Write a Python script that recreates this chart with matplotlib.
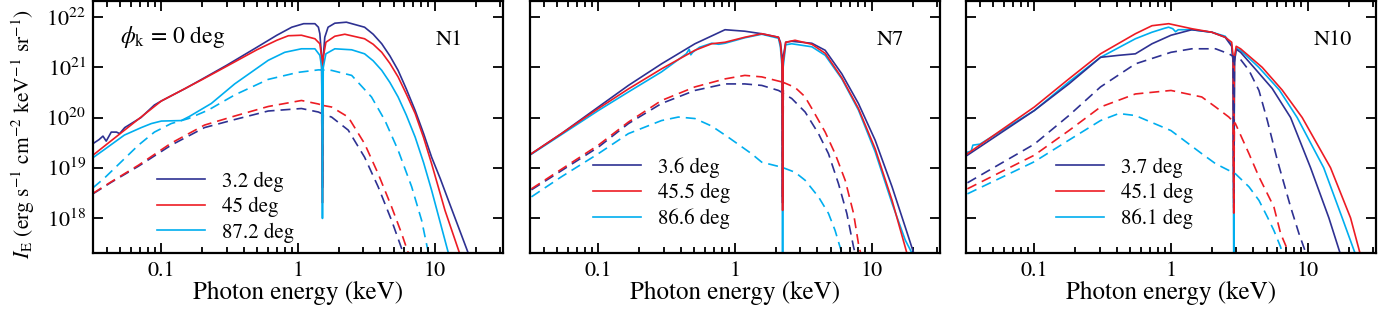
import numpy as np
import matplotlib
matplotlib.use('Agg')
import matplotlib.pyplot as plt
from matplotlib.ticker import NullLocator, LogLocator

plt.rcParams['font.family'] = ['STIXGeneral', 'DejaVu Serif']
plt.rcParams['mathtext.fontset'] = 'stix'

NAVY, RED, CYAN = '#2e3192', '#ed1c24', '#00aeef'

# ---- N1 (energies in keV, intensities as log10 I_E) ----
e1_b = [0.0316, 0.035, 0.0374, 0.0395, 0.043, 0.047, 0.0495, 0.054, 0.071, 0.089, 0.1, 0.15, 0.2, 0.3, 0.5,
        0.7, 0.9, 1.1, 1.33, 1.41, 1.445, 1.49, 1.51, 1.53, 1.57, 1.66, 1.86, 2.26, 3.07, 3.55, 4.1, 4.7, 5.4,
        6.2, 7.2, 8.3, 9.5, 11, 12.6, 17.6, 20]
i1_b = [19.48, 19.56, 19.63, 19.53, 19.71, 19.71, 19.68, 19.80, 20.00, 20.25, 20.33, 20.58, 20.77, 21.04,
        21.40, 21.64, 21.80, 21.87, 21.87, 21.80, 21.67, 21.2, 18.6, 21.2, 21.60, 21.80, 21.88, 21.90, 21.80,
        21.66, 21.47, 21.23, 20.94, 20.57, 20.14, 19.68, 19.21, 18.78, 18.35, 17.30, 16.9]
e1_r = [0.0316, 0.1, 0.2, 0.3, 0.5, 0.7, 0.85, 1.06, 1.33, 1.445, 1.49, 1.51, 1.53, 1.6, 1.86, 2.2, 3.07,
        3.55, 4.1, 4.7, 5.4, 6.2, 7.2, 8.3, 9.5, 11.9, 15.2, 17]
i1_r = [19.25, 20.33, 20.76, 21.02, 21.35, 21.54, 21.63, 21.64, 21.57, 21.47, 21.2, 18.3, 21.2, 21.50,
        21.62, 21.66, 21.57, 21.46, 21.30, 21.08, 20.81, 20.47, 20.08, 19.60, 19.08, 18.15, 17.30, 16.9]
e1_c = [0.0316, 0.0382, 0.0536, 0.0713, 0.0845, 0.1, 0.14, 0.16, 0.232, 0.344, 0.605, 0.8, 1.06, 1.33,
        1.445, 1.49, 1.51, 1.53, 1.6, 1.86, 2.47, 3.07, 3.55, 4.1, 4.7, 5.4, 6.2, 7.2, 8.3, 9.5, 12.6, 14]
i1_c = [19.20, 19.36, 19.65, 19.80, 19.88, 19.93, 19.94, 20.02, 20.28, 20.67, 21.14, 21.30, 21.37, 21.37,
        21.24, 21.0, 17.99, 21.0, 21.27, 21.37, 21.35, 21.27, 21.13, 20.94, 20.70, 20.41, 20.05, 19.61,
        19.10, 18.55, 17.30, 16.9]
e1_bd = [0.0316, 0.043, 0.068, 0.118, 0.207, 0.344, 0.605, 1.06, 1.41, 1.49, 1.51, 1.53, 1.76, 2.33, 3.07,
         3.86, 4.84, 5.89, 6.5]
i1_bd = [18.48, 18.71, 19.03, 19.45, 19.80, 19.96, 20.13, 20.18, 20.11, 20.08, 18.8, 20.06, 20.01, 19.75,
         19.21, 18.62, 17.95, 17.30, 16.9]
e1_rd = [0.0316, 0.043, 0.068, 0.118, 0.207, 0.344, 0.605, 1.06, 1.41, 1.49, 1.51, 1.53, 1.76, 2.33, 3.07,
         3.86, 4.84, 5.73, 6.41, 7.0]
i1_rd = [18.49, 18.72, 19.05, 19.49, 19.85, 20.03, 20.22, 20.34, 20.27, 20.25, 18.6, 20.24, 20.21, 20.01,
         19.48, 18.88, 18.22, 17.69, 17.30, 16.9]
e1_cd = [0.0316, 0.0382, 0.068, 0.089, 0.118, 0.158, 0.221, 0.344, 0.605, 1.0, 1.41, 1.76, 2.47, 3.45,
         4.33, 5.4, 6.79, 8.03, 9.0, 9.8]
i1_cd = [18.60, 18.79, 19.45, 19.71, 19.88, 19.98, 20.15, 20.45, 20.76, 20.90, 20.95, 20.94, 20.84, 20.41,
         19.94, 19.35, 18.62, 17.95, 17.30, 16.9]

# ---- N7 ----
e2_b = [0.0324, 0.0537, 0.1, 0.166, 0.29, 0.509, 0.845, 1.18, 1.57, 2.08, 2.15, 2.21, 2.23, 2.25, 2.35,
        2.6, 3.65, 4.57, 6.05, 8.0, 10.6, 14.1, 17.6, 20.3, 22]
i2_b = [19.28, 19.68, 20.21, 20.64, 21.07, 21.47, 21.75, 21.72, 21.67, 21.60, 21.50, 21.2, 18.3, 21.2,
        21.50, 21.52, 21.48, 21.34, 20.87, 20.28, 19.55, 18.62, 17.82, 17.30, 16.9]
e2_r = [0.0324, 0.0537, 0.1, 0.166, 0.29, 0.509, 0.675, 0.845, 1.18, 1.57, 2.08, 2.15, 2.21, 2.23, 2.25,
        2.35, 2.75, 3.65, 4.57, 6.05, 8.0, 10.6, 14.1, 18.1, 20]
i2_r = [19.28, 19.68, 20.18, 20.57, 20.97, 21.34, 21.47, 21.50, 21.60, 21.67, 21.60, 21.47, 21.1, 18.15,
        21.1, 21.50, 21.54, 21.46, 21.28, 20.79, 20.18, 19.38, 18.35, 17.30, 16.9]
e2_c = [0.0324, 0.0537, 0.1, 0.166, 0.29, 0.44, 0.462, 0.475, 0.49, 0.55, 0.675, 0.76, 0.845, 1.18, 1.57,
        2.08, 2.15, 2.21, 2.23, 2.25, 2.35, 2.6, 3.65, 4.57, 6.05, 8.0, 10.6, 14.1, 17.6, 19.7, 22]
i2_c = [19.27, 19.66, 20.14, 20.51, 20.91, 21.27, 21.36, 21.25, 21.30, 21.40, 21.48, 21.46, 21.48, 21.59,
        21.66, 21.58, 21.40, 21.0, 16.5, 21.0, 21.45, 21.47, 21.41, 21.24, 20.77, 20.15, 19.32, 18.29,
        17.56, 17.30, 16.9]
e2_bd = [0.0324, 0.1, 0.166, 0.29, 0.509, 0.845, 1.18, 1.57, 2.08, 2.21, 2.23, 2.25, 2.6, 3.26, 4.08,
         4.83, 5.72, 6.58, 7.37, 7.57, 8]
i2_bd = [18.56, 19.41, 19.88, 20.28, 20.54, 20.67, 20.67, 20.64, 20.54, 20.50, 18.42, 20.48, 20.38, 20.11,
         19.68, 19.28, 18.68, 18.09, 17.42, 17.30, 16.9]
e2_rd = [0.0324, 0.1, 0.166, 0.29, 0.509, 0.845, 1.18, 1.57, 2.2, 2.23, 2.26, 2.75, 3.24, 3.65, 4.57, 5.4,
         6.4, 7.37, 8.0, 8.3, 8.8]
i2_rd = [18.58, 19.45, 19.91, 20.34, 20.61, 20.77, 20.84, 20.81, 20.71, 18.4, 20.70, 20.60, 20.42, 20.18,
         19.71, 19.28, 18.75, 18.09, 17.49, 17.30, 16.9]
e2_cd = [0.0324, 0.0537, 0.1, 0.166, 0.29, 0.385, 0.509, 0.675, 0.89, 1.32, 1.57, 2.2, 2.75, 3.26, 4.08,
         4.83, 5.4, 6.05, 6.5]
i2_cd = [18.42, 18.82, 19.28, 19.68, 19.94, 20.01, 19.98, 19.83, 19.61, 19.28, 19.11, 19.01, 18.91, 18.75,
         18.42, 18.09, 17.75, 17.30, 16.9]

# ---- N10 ----
e3_b = [0.0324, 0.1, 0.179, 0.305, 0.415, 0.549, 0.726, 1.0, 1.42, 1.99, 2.49, 2.78, 2.85, 2.88, 2.91,
        3.0, 3.23, 4.04, 5.5, 7.5, 10.5, 14.3, 17.4, 19]
i3_b = [19.25, 20.14, 20.67, 21.20, 21.24, 21.27, 21.47, 21.64, 21.75, 21.70, 21.60, 21.42, 21.1, 18.2,
        21.1, 21.36, 21.30, 21.0, 20.58, 20.0, 19.0, 18.0, 17.27, 16.9]
e3_r = [0.0324, 0.1, 0.179, 0.305, 0.549, 0.726, 0.962, 1.42, 1.99, 2.49, 2.78, 2.85, 2.88, 2.91, 3.0,
        3.23, 4.65, 6.5, 9.12, 14.7, 20.6, 24.3, 26]
i3_r = [19.28, 20.21, 20.77, 21.27, 21.67, 21.83, 21.87, 21.77, 21.70, 21.60, 21.50, 21.2, 18.1, 21.2,
        21.42, 21.37, 21.0, 20.55, 20.0, 19.0, 18.0, 17.27, 16.9]
e3_c = [0.0324, 0.0345, 0.0355, 0.04, 0.1, 0.179, 0.305, 0.549, 0.726, 0.9, 0.96, 1.03, 1.08, 1.13, 1.42,
        1.99, 2.49, 2.78, 2.85, 2.88, 2.91, 3.0, 3.23, 4.39, 6.2, 8.38, 13.1, 17.9, 22.4, 24]
i3_c = [19.31, 19.33, 19.45, 19.47, 20.14, 20.71, 21.20, 21.57, 21.70, 21.78, 21.80, 21.77, 21.71, 21.75,
        21.75, 21.70, 21.62, 21.45, 21.1, 16.5, 21.1, 21.38, 21.34, 21.0, 20.55, 20.0, 19.0, 18.0, 17.27,
        16.9]
e3_bd = [0.0324, 0.1, 0.179, 0.305, 0.549, 1.0, 1.42, 2.12, 2.65, 2.85, 2.88, 2.91, 3.14, 3.72, 4.4, 5.07,
         6.0, 7.5, 8.63, 9.7, 10.5]
i3_bd = [18.70, 19.47, 20.04, 20.61, 21.07, 21.30, 21.37, 21.37, 21.27, 21.22, 18.3, 21.21, 21.20, 20.94,
         20.54, 19.94, 19.15, 18.22, 17.69, 17.30, 16.9]
e3_rd = [0.0324, 0.1, 0.179, 0.305, 0.549, 1.0, 1.68, 2.12, 2.65, 2.85, 2.88, 2.91, 2.96, 3.72, 4.4, 5.66,
         6.34, 7.29, 8]
i3_rd = [18.58, 19.25, 19.74, 20.21, 20.47, 20.54, 20.41, 20.21, 20.01, 19.92, 18.1, 19.90, 19.88, 19.28,
         18.82, 18.22, 17.69, 17.30, 16.9]
e3_cd = [0.0324, 0.1, 0.179, 0.305, 0.415, 0.549, 1.0, 1.68, 2.12, 2.96, 3.72, 4.4, 5.07, 5.66, 6.34, 6.5, 7]
i3_cd = [18.48, 19.12, 19.55, 19.94, 20.08, 20.04, 19.74, 19.28, 19.08, 18.88, 18.62, 18.35, 18.02, 17.75,
         17.42, 17.30, 16.9]

labels1 = ['3.2 deg', '45 deg', '87.2 deg']
labels2 = ['3.6 deg', '45.5 deg', '86.6 deg']
labels3 = ['3.7 deg', '45.1 deg', '86.1 deg']
tags = ['N1', 'N7', 'N10']
ytick_vals = [1e18, 1e19, 1e20, 1e21, 1e22]
ytick_labels = [r'$10^{18}$', r'$10^{19}$', r'$10^{20}$', r'$10^{21}$', r'$10^{22}$']

colors = [NAVY, RED, CYAN]

fig = plt.figure(figsize=(13.78, 3.12), dpi=100)
W, H = 1378.0, 312.0
lefts = [93, 530, 966]
axes = [fig.add_axes([l / W, 59 / H, 410 / W, 252 / H]) for l in lefts]

panels = [
    ([(e1_b, i1_b), (e1_r, i1_r), (e1_c, i1_c)], [(e1_bd, i1_bd), (e1_rd, i1_rd), (e1_cd, i1_cd)], labels1),
    ([(e2_b, i2_b), (e2_r, i2_r), (e2_c, i2_c)], [(e2_bd, i2_bd), (e2_rd, i2_rd), (e2_cd, i2_cd)], labels2),
    ([(e3_b, i3_b), (e3_r, i3_r), (e3_c, i3_c)], [(e3_bd, i3_bd), (e3_rd, i3_rd), (e3_cd, i3_cd)], labels3),
]
leg_pos = [(0.156, 0.183), (0.154, 0.238), (0.22, 0.238)]
tag_x = [0.87, 0.878, 0.895]
# drawing order of the solid curves (which one ends up on top in the absorption dip)
solid_order = [[0, 1, 2], [2, 0, 1], [2, 0, 1]]

for k, (ax, (solid, dashed, labs)) in enumerate(zip(axes, panels)):
    z_dash = 3 if k == 2 else 1
    for (e, i), c in zip(dashed, colors):
        ax.plot(e, 10 ** np.array(i), color=c, lw=1.2, dashes=(6, 3.6), zorder=z_dash)
    handles = [None] * 3
    for j in solid_order[k]:
        e, i = solid[j]
        handles[j], = ax.plot(e, 10 ** np.array(i), color=colors[j], lw=1.2, label=labs[j], zorder=2)
    ax.set_xscale('log')
    ax.set_yscale('log')
    ax.set_xlim(10 ** -1.5, 10 ** 1.5)
    ax.set_ylim(2e17, 2.1e22)
    ax.set_xticks([0.1, 1, 10])
    ax.set_xticklabels(['0.1', '1', '10'])
    ax.xaxis.set_minor_locator(LogLocator(base=10, subs=np.arange(2, 10)))
    ax.set_yticks(ytick_vals)
    ax.set_yticklabels(ytick_labels if k == 0 else [])
    ax.yaxis.set_minor_locator(NullLocator())
    ax.tick_params(which='both', direction='in', top=True, right=True, width=1.3, labelsize=16)
    ax.tick_params(which='major', length=7)
    ax.tick_params(which='minor', length=4)
    ax.tick_params(axis='x', pad=6)
    ax.tick_params(axis='y', pad=5)
    for s in ax.spines.values():
        s.set_linewidth(1.6)
        s.set_zorder(5)
    ax.set_xlabel('Photon energy (keV)', fontsize=18, labelpad=0)
    ax.legend(handles=handles, loc='center left', bbox_to_anchor=leg_pos[k], frameon=False, fontsize=15,
              handlelength=2.3, handletextpad=0.8, labelspacing=0.25, borderpad=0, borderaxespad=0)
    ax.text(tag_x[k], 0.845, tags[k], transform=ax.transAxes, fontsize=16, ha='center', va='center')

axes[0].text(0.066, 0.857, r'$\phi_{\rm k}$ = 0 deg', transform=axes[0].transAxes, fontsize=17, va='center')
axes[0].set_ylabel(r'$I_{\rm E}$ (erg s$^{-1}$ cm$^{-2}$ keV$^{-1}$ sr$^{-1}$)', fontsize=15.5)
axes[0].yaxis.set_label_coords(-0.137, 0.47)

fig.savefig('out.png', dpi=100)
